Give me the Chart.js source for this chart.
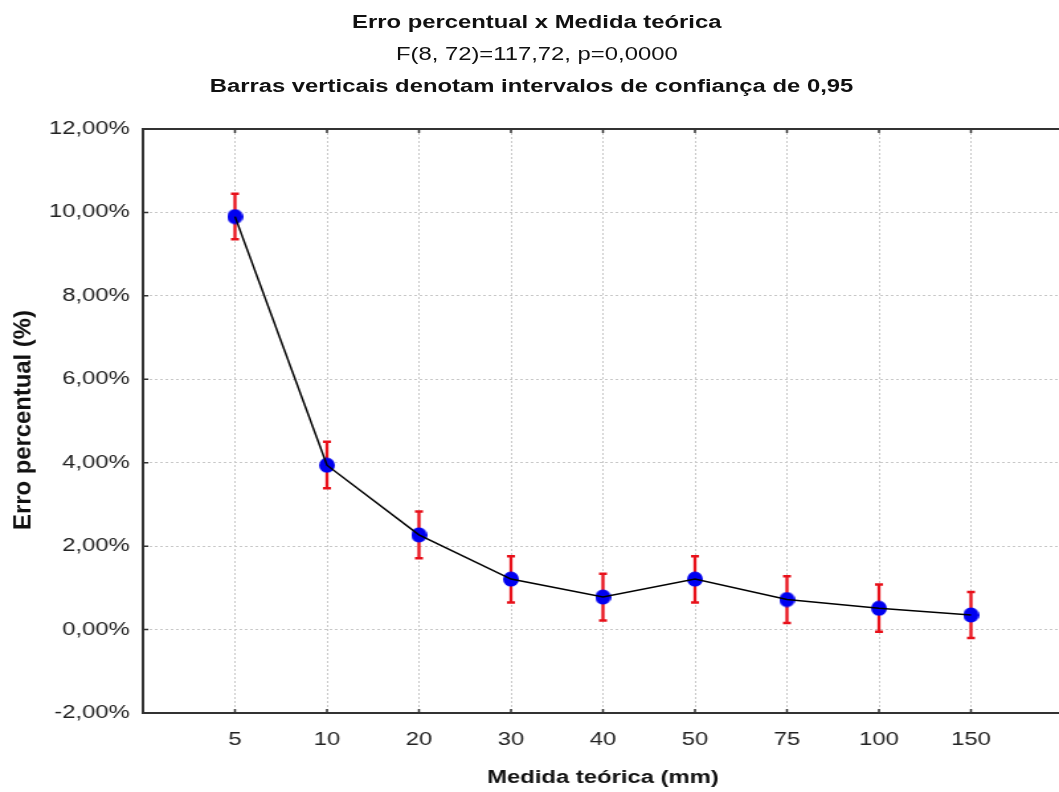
<!DOCTYPE html>
<html>
<head>
<meta charset="utf-8">
<title>Erro percentual x Medida teórica</title>
<script src="https://cdn.jsdelivr.net/npm/chart.js"></script>
<style>
  html, body { margin: 0; padding: 0; background: #fff; overflow: hidden; }
  /* the original picture is stretched sideways, so the whole page is too */
  #stage {
    position: absolute; left: 0; top: 0;
    width: 803px; height: 792px;
    transform: scaleX(1.32375); transform-origin: 0 0;
  }
  #titles {
    position: absolute; left: 0; top: 6px; width: 803px;
    text-align: center; font-family: "Liberation Sans", Arial, sans-serif;
    font-size: 18px; line-height: 32px; color: #111;
  }
  #titles .b { font-weight: bold; }
  #titles .sh { position: relative; left: 4px; }
  #chart { position: absolute; left: 0; top: 0; width: 803px; height: 792px; }
</style>
</head>
<body>
<div id="stage">
  <div id="titles">
    <div class="b sh">Erro percentual x Medida teórica</div>
    <div class="sh">F(8, 72)=117,72, p=0,0000</div>
    <div class="b">Barras verticais denotam intervalos de confiança de 0,95</div>
  </div>
  <canvas id="chart" width="803" height="792"></canvas>
</div>
<script>
const categories = ['5', '10', '20', '30', '40', '50', '75', '100', '150'];
const means = [9.90, 3.94, 2.27, 1.21, 0.78, 1.21, 0.72, 0.51, 0.35];
const ciLower = [9.36, 3.39, 1.71, 0.65, 0.22, 0.65, 0.16, -0.05, -0.20];
const ciUpper = [10.45, 4.50, 2.83, 1.76, 1.34, 1.76, 1.28, 1.08, 0.90];
const yTicks = [-2, 0, 2, 4, 6, 8, 10, 12];
const yTitle = 'Erro percentual (%)';

Chart.defaults.font.family = '"Liberation Sans", Arial, sans-serif';
Chart.defaults.color = '#222';

const points = means.map((v, i) => ({ x: i + 1, y: v }));

// marker narrower than tall, so it comes out round after the stretch
const dot = document.createElement('canvas');
dot.width = 12; dot.height = 16;
(function () {
  const c = dot.getContext('2d');
  c.fillStyle = '#0000f0';
  c.beginPath();
  c.ellipse(6, 8, 6, 7.6, 0, 0, Math.PI * 2);
  c.fill();
})();

// red confidence bars, drawn just before the blue markers
const errorBars = {
  id: 'errorBars',
  beforeDatasetDraw(chart, args) {
    if (args.index !== 1) return;
    const { ctx, scales: { x, y } } = chart;
    ctx.save();
    ctx.strokeStyle = '#e8101a';
    for (let i = 0; i < means.length; i++) {
      const px = x.getPixelForValue(i + 1);
      const top = y.getPixelForValue(ciUpper[i]);
      const bot = y.getPixelForValue(ciLower[i]);
      ctx.lineWidth = 2.3;
      ctx.beginPath();
      ctx.moveTo(px, top); ctx.lineTo(px, bot);
      ctx.stroke();
      ctx.lineWidth = 2.5;
      ctx.beginPath();
      ctx.moveTo(px - 3, top); ctx.lineTo(px + 3, top);
      ctx.moveTo(px - 3, bot); ctx.lineTo(px + 3, bot);
      ctx.stroke();
    }
    ctx.restore();
  }
};

// top border, small inward tick marks and the y title
// (the y title is stretched along its length like the rest of the picture)
const frame = {
  id: 'frame',
  beforeDatasetsDraw(chart) {
    const { ctx, chartArea: a, scales: { x, y } } = chart;
    ctx.save();
    ctx.strokeStyle = '#333';
    ctx.lineWidth = 2;
    ctx.beginPath();
    ctx.moveTo(a.left, a.top); ctx.lineTo(a.right, a.top);
    ctx.stroke();
    ctx.lineWidth = 1.5;
    ctx.beginPath();
    for (let i = 1; i <= categories.length; i++) {
      const px = x.getPixelForValue(i);
      ctx.moveTo(px, a.bottom); ctx.lineTo(px, a.bottom - 4);
      ctx.moveTo(px, a.top); ctx.lineTo(px, a.top + 4);
    }
    yTicks.forEach(v => {
      const py = y.getPixelForValue(v);
      ctx.moveTo(a.left, py); ctx.lineTo(a.left + 4, py);
    });
    ctx.stroke();

    ctx.translate(y.left + 18, 420);
    ctx.rotate(-Math.PI / 2);
    ctx.scale(1.32375, 1);
    ctx.font = 'bold 18px "Liberation Sans", Arial, sans-serif';
    ctx.fillStyle = '#111';
    ctx.textAlign = 'center';
    ctx.textBaseline = 'middle';
    ctx.fillText(yTitle, 0, 0);
    ctx.restore();
  }
};

new Chart(document.getElementById('chart'), {
  type: 'line',
  data: {
    datasets: [
      {
        data: points,
        borderColor: '#000',
        borderWidth: 1.5,
        pointRadius: 0,
        tension: 0
      },
      {
        data: points,
        showLine: false,
        pointStyle: dot,
        pointRadius: 7
      }
    ]
  },
  options: {
    responsive: false,
    animation: false,
    layout: { autoPadding: false, padding: { top: 129, right: 0, left: 0, bottom: 0 } },
    plugins: {
      legend: { display: false },
      tooltip: { enabled: false }
    },
    scales: {
      x: {
        type: 'linear',
        min: 0,
        max: 10,
        afterFit(s) {
          s.height = 79;
          s.paddingLeft = 0;
          s.paddingRight = 0;
        },
        ticks: {
          stepSize: 1,
          padding: 16,
          font: { size: 18 },
          callback: v => categories[v - 1] || ''
        },
        grid: {
          drawTicks: false,
          color: c => (c.tick && (c.tick.value === 0 || c.tick.value === 10)) ? 'rgba(0,0,0,0)' : '#c8c8c8',
          lineWidth: 1
        },
        border: { color: '#333', width: 2, dash: [2, 2] },
        title: {
          display: true,
          text: 'Medida teórica (mm)',
          font: { size: 18, weight: 'bold' },
          color: '#111',
          padding: { top: 0, bottom: 3 }
        }
      },
      y: {
        min: -2,
        max: 12,
        afterFit(s) { s.width = 108; },
        afterBuildTicks(s) { s.ticks = yTicks.map(v => ({ value: v })); },
        ticks: {
          padding: 10,
          font: { size: 18 },
          callback: v => v.toFixed(2).replace('.', ',') + '%'
        },
        grid: { drawTicks: false, color: '#c8c8c8', lineWidth: 1 },
        border: { color: '#333', width: 2, dash: [2, 2] }
      }
    }
  },
  plugins: [errorBars, frame]
});
</script>
</body>
</html>
